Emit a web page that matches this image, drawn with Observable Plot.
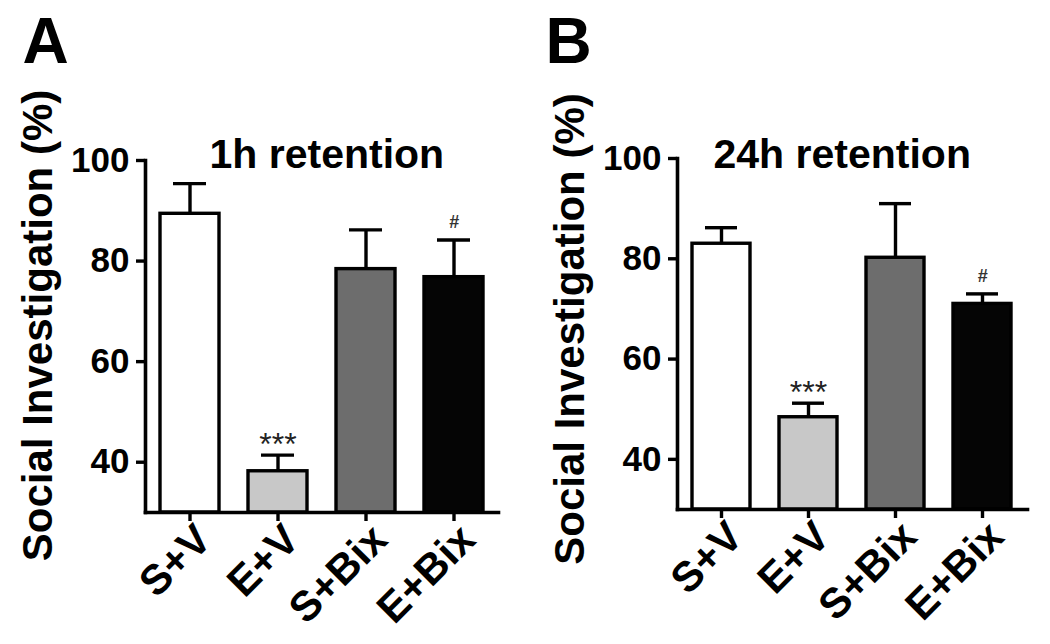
<!DOCTYPE html>
<html><head><meta charset="utf-8">
<script src="https://cdn.jsdelivr.net/npm/d3@7"></script>
<script src="https://cdn.jsdelivr.net/npm/@observablehq/plot@0.6"></script>
<style>
body{margin:0;background:#fff;}
#wrap{display:flex;width:1050px;height:644px;overflow:hidden;}
</style></head><body><div id="wrap"></div>
<script>
const groups = ["S+V", "E+V", "S+Bix", "E+Bix"];
const fills = ["#ffffff", "#c8c8c8", "#6d6d6d", "#050505"];
const meanA = [89.4, 38.2, 78.4, 76.8];
const errA = [6.0, 3.2, 7.8, 7.4];
const sigA = ["", "***", "", "#"];
const meanB = [83.0, 48.4, 80.2, 71.0];
const errB = [3.2, 2.8, 10.8, 2.0];
const sigB = ["", "***", "", "#"];
const yTicks = [40, 60, 80, 100];
const yDomain = [30, 100];
const yLabel = "Social Investigation (%)";
const FONT = '"Liberation Sans", Arial, Helvetica, sans-serif';

function panel(o) {
  const data = groups.map((g, i) => ({g, mean: o.mean[i], top: o.mean[i] + o.err[i], fill: fills[i], sig: o.sig[i]}));
  return Plot.plot({
    width: 525, height: 644,
    marginLeft: o.mL, marginRight: o.mR, marginTop: o.mT, marginBottom: o.mB,
    style: {fontFamily: FONT, fontWeight: "bold", color: "#000", background: "#fff", overflow: "visible"},
    x: {domain: groups, paddingInner: 0.33, paddingOuter: 0.17, label: null},
    y: {domain: yDomain, label: null},
    color: {type: "identity"},
    marks: [
      Plot.barY(data, {x: "g", y1: yDomain[0], y2: "mean", fill: d => d.fill, stroke: "#000", strokeWidth: 3.4}),
      Plot.ruleX(data, {x: "g", y1: "mean", y2: "top", stroke: "#000", strokeWidth: 3.4}),
      Plot.tickY(data, {x: "g", y: "top", stroke: "#000", strokeWidth: 3.4, insetLeft: 13, insetRight: 13}),
      Plot.frame({anchor: "left", stroke: "#000", strokeWidth: 3.6}),
      Plot.frame({anchor: "bottom", stroke: "#000", strokeWidth: 3.6}),
      Plot.axisY({ticks: yTicks, tickSize: 9, tickPadding: 7, fontSize: 35, strokeWidth: 3.4, label: null}),
      Plot.axisX({tickSize: 9, tickFormat: () => "", strokeWidth: 3.4, label: null}),
      Plot.axisX({tickSize: 0, tickRotate: -45, tickPadding: 13, dx: 14, dy: 7, fontSize: 42, label: null}),
      Plot.text(data.filter(d => d.sig === "***"), {x: "g", y: "top", text: "sig", lineAnchor: "bottom", dy: 0, fontSize: 32, fontWeight: "normal", fill: "#222"}),
      Plot.text(data.filter(d => d.sig === "#"), {x: "g", y: "top", text: "sig", lineAnchor: "bottom", dy: -12, fontSize: 18, fontStyle: "italic", fill: "#333"}),
      Plot.text([o.letter], {frameAnchor: "top-left", text: d => d, dx: o.letterDx, dy: o.letterDy, textAnchor: "start", lineAnchor: "bottom", fontSize: 64, fontWeight: "bold"}),
      Plot.text([o.title], {frameAnchor: "top-left", text: d => d, dx: o.titleDx, dy: o.titleDy, textAnchor: "start", lineAnchor: "bottom", fontSize: 41, fontWeight: "bold"}),
      Plot.text([yLabel], {frameAnchor: "left", text: d => d, rotate: -90, textAnchor: "middle", dx: -107, dy: o.labelDy, fontSize: 42, fontWeight: "bold"})
    ]
  });
}

const wrap = document.getElementById("wrap");
wrap.append(panel({letter: "A", title: "1h retention", mean: meanA, err: errA, sig: sigA,
  mL: 145, mR: 27, mT: 160, mB: 132, letterDx: -123, letterDy: -98, titleDx: 64, titleDy: 7, labelDy: -11}));
wrap.append(panel({letter: "B", title: "24h retention", mean: meanB, err: errB, sig: sigB,
  mL: 152, mR: 23, mT: 158, mB: 135, letterDx: -132, letterDy: -96, titleDx: 36, titleDy: 9, labelDy: -5}));
</script></body></html>
